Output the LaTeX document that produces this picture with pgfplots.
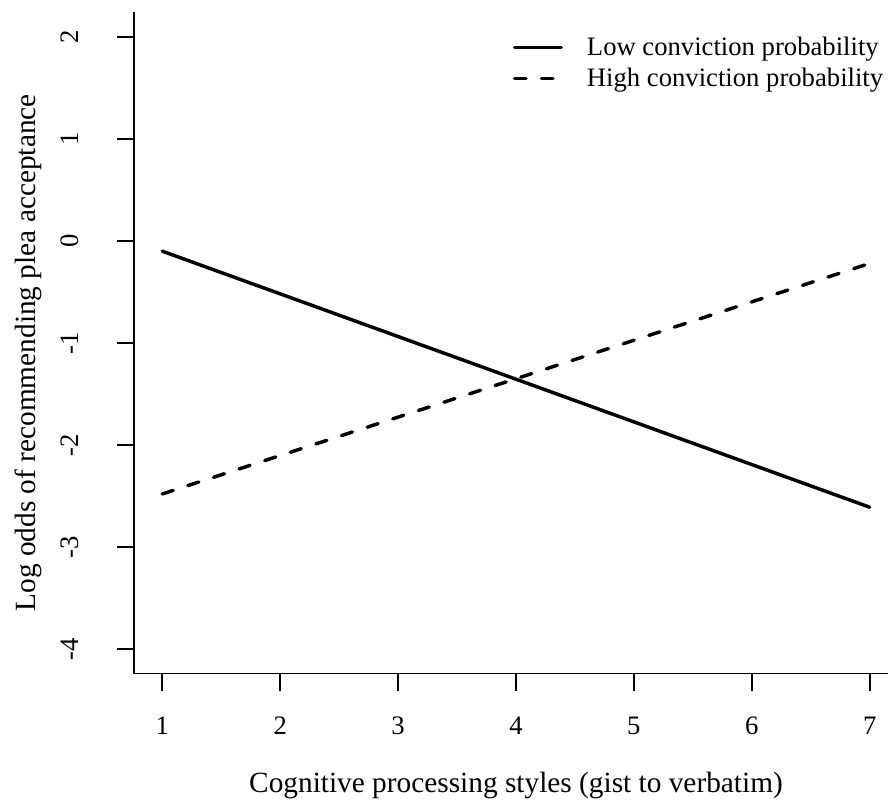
\documentclass[border=0pt]{standalone}
\usepackage{fontspec}
\setmainfont{Liberation Serif}
\usepackage{pgfplots}
\pgfplotsset{compat=1.18}
\newcommand{\rfont}{\fontsize{20}{24}\selectfont}
\newcommand{\lfont}{\fontsize{22}{26}\selectfont}
\begin{document}
\begin{tikzpicture}
\useasboundingbox (0,0) rectangle (666pt,602.25pt);
\begin{axis}[
  at={(100.5pt,97.125pt)}, anchor=south west,
  scale only axis, width=573pt, height=495.75pt,
  xmin=0.76, xmax=7.24, ymin=-4.24, ymax=2.24,
  enlargelimits=false,
  axis x line*=bottom, axis y line*=left,
  axis line style={-, line width=1.4pt, black},
  xtick={1,2,3,4,5,6,7}, xticklabels={1,2,3,4,5,6,7},
  ytick={-4,-3,-2,-1,0,1,2}, yticklabels={-4,-3,-2,-1,0,1,2},
  tick align=outside, major tick length=12.75pt,
  tick style={black, line width=1.4pt},
  ticklabel style={font=\rfont},
  xticklabel shift=19.5pt,
  yticklabel shift=29.25pt,
  xticklabel style={anchor=north, inner sep=0pt},
  yticklabel style={rotate=90, anchor=base, inner sep=0pt},
  xlabel={Cognitive processing styles (gist to verbatim)},
  ylabel={Log odds of recommending plea acceptance},
  label style={font=\lfont},
  xlabel style={at={(axis description cs:0.5,-0.1793)}, anchor=base, inner sep=0pt},
  ylabel style={at={(axis description cs:-0.1283,0.485)}, anchor=base, inner sep=0pt},
  legend style={at={(axis description cs:0.4955,0.9632)}, anchor=north west,
    draw=none, fill=none, inner sep=0pt, font=\rfont,
    nodes={inner sep=0pt, text depth=0.2em}, row sep=7.25pt},
  legend cell align=left,
  /tikz/every odd column/.append style={column sep=18pt},
  legend image code/.code={\draw[#1] (0pt,0pt) -- (35pt,0pt);},
]
\addplot[black, line width=2.6pt, line cap=round] coordinates {(1,-0.10) (7,-2.61)};
\addlegendentry{Low conviction probability}
\addplot[black, line width=2.6pt, line cap=round, dash pattern=on 8.6pt off 11.6pt] coordinates {(1,-2.48) (7,-0.22)};
\addlegendentry{High conviction probability}
\end{axis}
\end{tikzpicture}
\end{document}
